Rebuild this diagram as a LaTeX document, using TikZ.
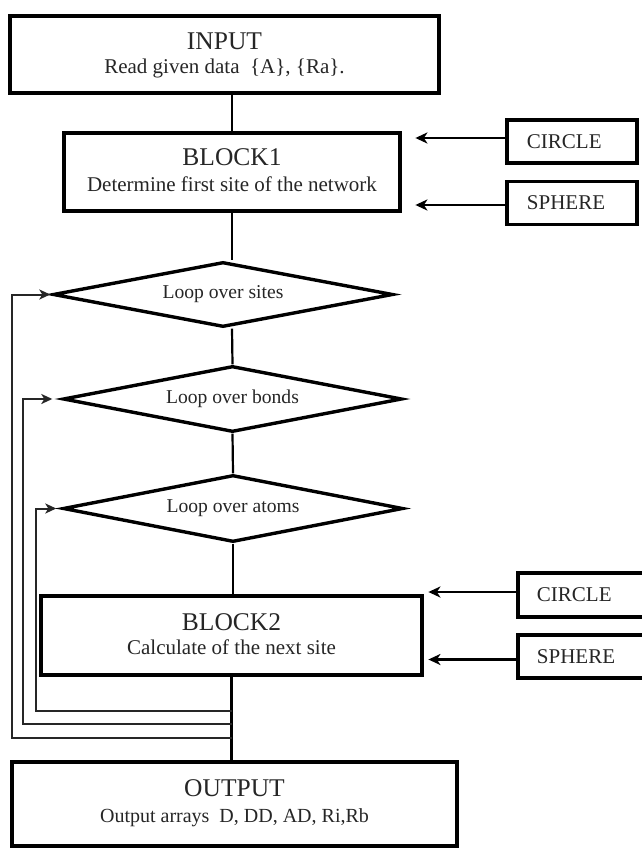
\documentclass[tikz,border=0pt]{standalone}
\usepackage{fontspec}
\setmainfont{Liberation Serif}
\usetikzlibrary{shapes.geometric,arrows.meta}
\begin{document}
\begin{tikzpicture}[x=1pt,y=-1pt,
  box/.style={draw,line width=3.4pt,inner sep=0pt,fill=white},
  sidebox/.style={draw,line width=3.2pt,inner sep=0pt,fill=white},
  loopbox/.style={draw,shape=diamond,aspect=5,line width=3.4pt,inner sep=0pt,
    text=black!85,font=\fontsize{19.6}{22}\selectfont},
  title/.style={anchor=base,text=black!85,font=\fontsize{25.5}{30}\selectfont},
  subtitle/.style={anchor=base,text=black!85,font=\fontsize{21}{25}\selectfont},
  sidetext/.style={anchor=west,text=black!85,font=\fontsize{21}{25}\selectfont},
  conn/.style={line width=2.2pt},
  feed/.style={line width=2.2pt,-{Stealth[length=12pt,width=11pt,inset=3.5pt]}},
  loopline/.style={line width=2pt,draw=black!85,-{Stealth[length=11pt,width=10pt,inset=3pt]}}]

\useasboundingbox (0,0) rectangle (642,848);
\fill[white] (0,0) rectangle (642,848);

% main blocks
\node[box,minimum width=429pt,minimum height=77pt] (in1) at (224.5,54.5) {};
\node[title] (in1t) at (224.5,50) {INPUT};
\node[subtitle] (in1s) at (224.5,74) {Read given data \ \{A\}, \{Ra\}.};

\node[box,minimum width=336pt,minimum height=78pt] (b1) at (232,172) {};
\node[title] (b1t) at (232,165) {BLOCK1};
\node[subtitle] (b1s) at (232,191) {Determine first site of the network};

% loop decisions
\node[loopbox,minimum width=340pt,minimum height=65pt] (d1) at (223,294.5) {Loop over sites};
\node[loopbox,minimum width=339pt,minimum height=66pt] (d2) at (232.5,399) {Loop over bonds};
\node[loopbox,minimum width=340pt,minimum height=67pt] (d3) at (233,508.5) {Loop over atoms};

\node[box,minimum width=381pt,minimum height=79pt] (b2) at (231.5,635.5) {};
\node[title] (b2t) at (231.5,630) {BLOCK2};
\node[subtitle] (b2s) at (231.5,654) {Calculate of the next site};

\node[box,minimum width=445pt,minimum height=84pt] (out) at (234.5,804) {};
\node[title] (outt) at (234.5,796) {OUTPUT};
\node[subtitle,font=\fontsize{20}{24}\selectfont] (outs) at (234.5,822) {Output arrays \ D, DD, AD, Ri,Rb};

% geometry routines feeding the blocks
\node[sidebox,minimum width=130pt,minimum height=43pt] (c1) at (572,141.5) {};
\node[sidetext] (c1t) at ([xshift=18pt]c1.west) {CIRCLE};
\node[sidebox,minimum width=130pt,minimum height=43pt] (s1) at (572,203) {};
\node[sidetext] (s1t) at ([xshift=18pt]s1.west) {SPHERE};

\node[sidebox,minimum width=134pt,minimum height=44pt] (c2) at (585,595) {};
\node[sidetext] (c2t) at ([xshift=17pt]c2.west) {CIRCLE};
\node[sidebox,minimum width=134pt,minimum height=43pt] (s2) at (585,656.5) {};
\node[sidetext] (s2t) at ([xshift=17pt]s2.west) {SPHERE};

\draw[feed] ([yshift=3.5pt]c1.west) -- ++(-90,0);
\draw[feed] ([yshift=-2pt]s1.west) -- ++(-90,0);
\draw[feed] ([yshift=3pt]c2.west) -- ++(-88,0);
\draw[feed] ([yshift=-3pt]s2.west) -- ++(-88,0);

% main flow line
\draw[conn] (b1.north |- in1.south) -- (b1.north);
\draw[conn] (b1.south) -- (b1.south |- d1.north);
\draw[conn] (b1.south |- d1.south) -- (d2.north);
\draw[conn] (d2.south) -- (d3.north);
\draw[conn] (d3.south) -- (d3.south |- b2.north);
\draw[conn] (b2.south) -- (b2.south |- out.north);

% loop returns
\coordinate (j3) at (231.5,711);
\coordinate (j2) at (231.5,724);
\coordinate (j1) at (231.5,738);
\draw[loopline] (j1) -- ++(-219.5,0) |- ([xshift=-1pt]d1.west);
\draw[loopline] (j2) -- ++(-208.5,0) |- ([xshift=-9pt]d2.west);
\draw[loopline] (j3) -- ++(-195.5,0) |- ([xshift=-5pt]d3.west);
\end{tikzpicture}
\end{document}
